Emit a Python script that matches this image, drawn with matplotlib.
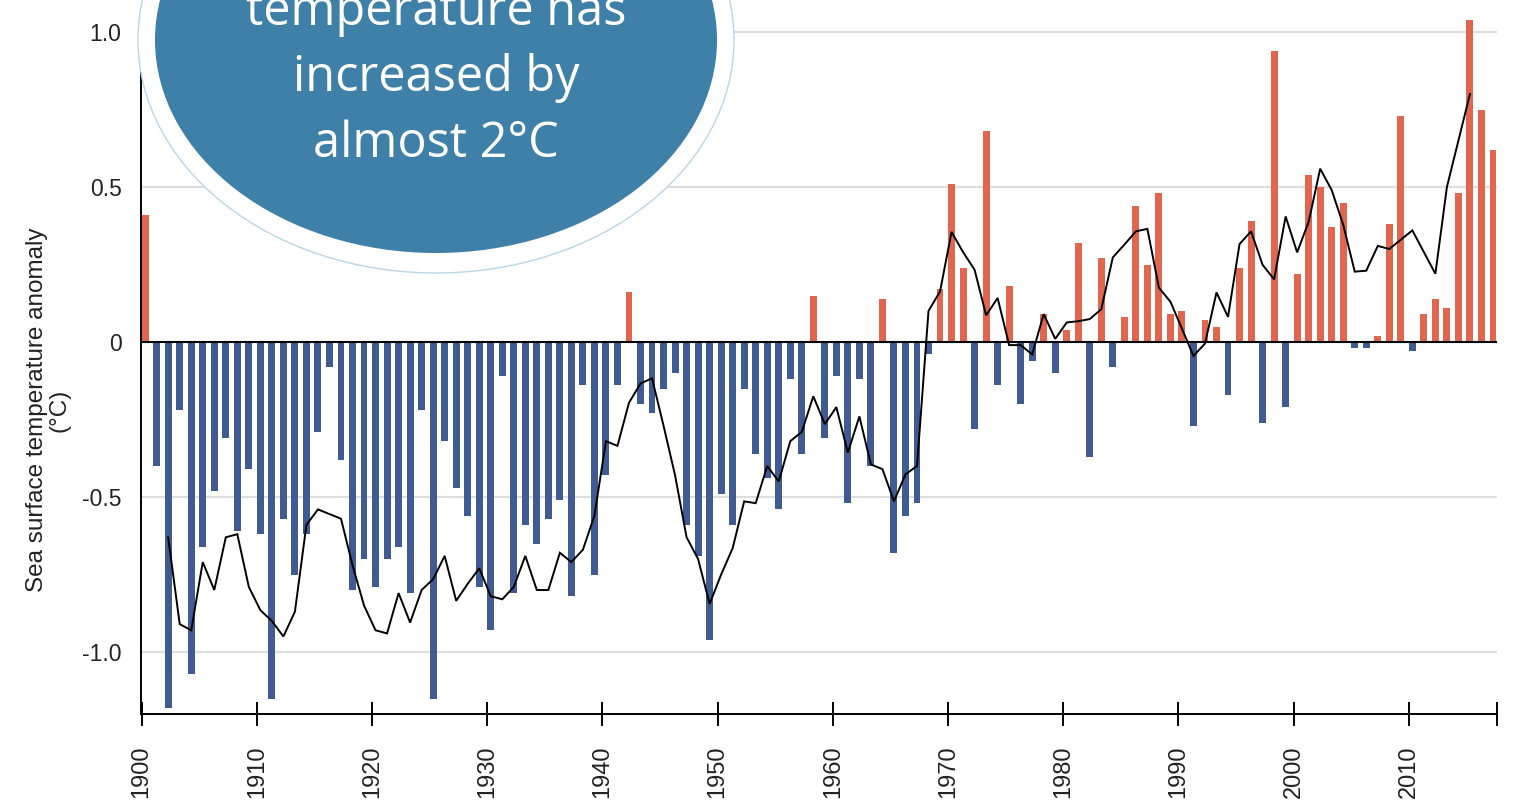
import matplotlib
matplotlib.use("Agg")
import matplotlib.pyplot as plt
from matplotlib.patches import Ellipse
import numpy as np

# ---- data -------------------------------------------------------------
years = list(range(1900, 2018))
anomaly = [
    0.41, -0.40, -1.18, -0.22, -1.07, -0.66, -0.48, -0.31, -0.61, -0.41,
    -0.62, -1.15, -0.57, -0.75, -0.62, -0.29, -0.08, -0.38, -0.80, -0.70,
    -0.79, -0.70, -0.66, -0.81, -0.22, -1.15, -0.32, -0.47, -0.56, -0.79,
    -0.93, -0.11, -0.81, -0.59, -0.65, -0.57, -0.51, -0.82, -0.14, -0.75,
    -0.43, -0.14, 0.16, -0.20, -0.23, -0.15, -0.10, -0.59, -0.69, -0.96,
    -0.49, -0.59, -0.15, -0.36, -0.44, -0.54, -0.12, -0.36, 0.15, -0.31,
    -0.11, -0.52, -0.12, -0.40, 0.14, -0.68, -0.56, -0.52, -0.04, 0.17,
    0.51, 0.24, -0.28, 0.68, -0.14, 0.18, -0.20, -0.06, 0.09, -0.10,
    0.04, 0.32, -0.37, 0.27, -0.08, 0.08, 0.44, 0.25, 0.48, 0.09,
    0.10, -0.27, 0.07, 0.05, -0.17, 0.24, 0.39, -0.26, 0.94, -0.21,
    0.22, 0.54, 0.50, 0.37, 0.45, -0.02, -0.02, 0.02, 0.38, 0.73,
    -0.03, 0.09, 0.14, 0.11, 0.48, 1.04, 0.75, 0.62,
]

mean_years = list(range(1902, 2016))
running_mean = [
    -0.63, -0.91, -0.93, -0.71, -0.80, -0.63, -0.62, -0.79, -0.865, -0.90,
    -0.95, -0.87, -0.59, -0.54, -0.555, -0.57, -0.72, -0.85, -0.93, -0.94,
    -0.81, -0.905, -0.80, -0.765, -0.69, -0.835, -0.78, -0.73, -0.82, -0.83,
    -0.79, -0.69, -0.80, -0.80, -0.68, -0.71, -0.67, -0.56, -0.32, -0.335,
    -0.196, -0.134, -0.117, -0.27, -0.43, -0.63, -0.70, -0.845, -0.75, -0.665,
    -0.514, -0.52, -0.40, -0.45, -0.32, -0.29, -0.175, -0.265, -0.21, -0.357,
    -0.24, -0.395, -0.41, -0.514, -0.427, -0.40, 0.10, 0.163, 0.355, 0.29,
    0.233, 0.086, 0.142, -0.01, -0.01, -0.04, 0.09, 0.01, 0.063, 0.067,
    0.074, 0.106, 0.273, 0.314, 0.357, 0.365, 0.175, 0.13, 0.043, -0.045,
    -0.005, 0.16, 0.081, 0.316, 0.357, 0.249, 0.202, 0.405, 0.289, 0.388,
    0.559, 0.49, 0.378, 0.227, 0.23, 0.31, 0.30, 0.33, 0.36, 0.29,
    0.22, 0.50, 0.65, 0.80,
]

decade_ticks = list(range(1900, 2011, 10))
y_ticks = [-1.0, -0.5, 0.0, 0.5, 1.0]
y_ticklabels = ["-1.0", "-0.5", "0", "0.5", "1.0"]
y_label = "Sea surface temperature anomaly\n(°C)"
badge_lines = ["temperature has", "increased by", "almost 2°C"]

# ---- style ------------------------------------------------------------
RED = "#E0664F"
BLUE = "#3F5B92"
GRID = "#DEDEDE"
BADGE = "#3E80A8"
FONT = ["Liberation Sans", "DejaVu Sans"]

W, H, DPI = 1522, 806, 100
fig = plt.figure(figsize=(W / DPI, H / DPI), dpi=DPI)
fig.patch.set_facecolor("white")

ax = fig.add_axes([141 / W, (H - 714) / H, 1356 / W, (714 - 16.5) / H])

bar_w = 0.6
colors = [RED if v >= 0 else BLUE for v in anomaly]
ax.bar(years, anomaly, width=bar_w, align="edge", color=colors,
       linewidth=0, zorder=2)

ax.plot([y + bar_w / 2 for y in mean_years], running_mean,
        color="black", lw=1.4, zorder=3, solid_joinstyle="miter")

x0 = 1900 - 0.06
ax.set_xlim(x0, x0 + 1356 / 11.52)
ax.set_ylim(-1.2, 1.05)

# grid and zero line
for v in y_ticks:
    if v == 0:
        ax.axhline(0, color="black", lw=1.5, zorder=4)
    else:
        ax.axhline(v, color=GRID, lw=1.6, zorder=0)

for s in ("top", "right"):
    ax.spines[s].set_visible(False)
for s in ("left", "bottom"):
    ax.spines[s].set_color("black")
    ax.spines[s].set_linewidth(1.4)

ax.set_yticks(y_ticks)
ax.set_yticklabels(y_ticklabels, fontfamily=FONT, fontsize=16.5, color="#222222")
ax.tick_params(axis="y", length=0, pad=14)

ax.set_xticks(decade_ticks)
ax.set_xticklabels([str(t) for t in decade_ticks], rotation=90,
                   fontfamily=FONT, fontsize=17, color="#222222")
ax.set_xticks([ax.get_xlim()[1]], minor=True)
ax.tick_params(axis="x", which="both", direction="inout", length=17,
               width=1.4, color="black", pad=14)

fig.text(48 / W, 1 - 410 / H, y_label, rotation=90, ha="center", va="center",
         multialignment="center", fontfamily=FONT, fontsize=17.5,
         linespacing=1.05, color="#222222")

# ---- badge ------------------------------------------------------------
cx, cy = 436, 40
ring = Ellipse((cx / W, 1 - cy / H), 2 * 298 / W, 2 * 233 / H,
               transform=fig.transFigure, facecolor="white",
               edgecolor="#B9D6E8", lw=1.0, zorder=10)
disc = Ellipse((cx / W, 1 - cy / H), 2 * 281 / W, 2 * 213 / H,
               transform=fig.transFigure, facecolor=BADGE,
               edgecolor="none", zorder=11)
fig.add_artist(ring)
fig.add_artist(disc)

baselines = [25, 91, 157]
for txt, b in zip(badge_lines, baselines):
    fig.text(cx / W, 1 - b / H, txt, ha="center", va="baseline",
             fontfamily=["Open Sans", "DejaVu Sans"], fontsize=35,
             color="white", zorder=12)

fig.savefig("out.png", dpi=DPI, facecolor="white")
